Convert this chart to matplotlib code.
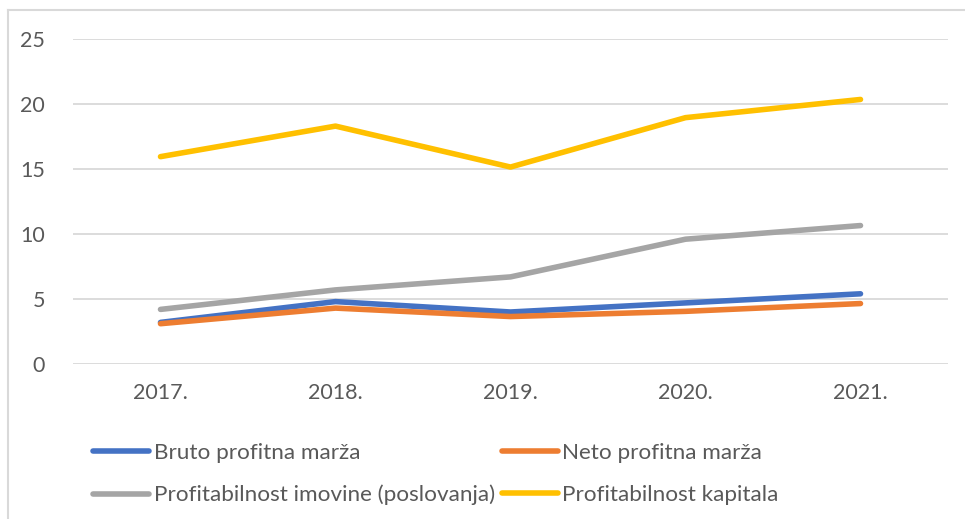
import matplotlib.pyplot as plt
from matplotlib.lines import Line2D

plt.rcParams['font.family'] = ['Lato', 'DejaVu Sans']

years = ['2017.', '2018.', '2019.', '2020.', '2021.']
bruto = [3.2, 4.8, 4.0, 4.7, 5.4]
neto = [3.1, 4.3, 3.65, 4.05, 4.65]
imovina = [4.2, 5.7, 6.7, 9.6, 10.65]
kapital = [15.95, 18.3, 15.15, 18.95, 20.35]

names = ['Bruto profitna marža', 'Neto profitna marža',
         'Profitabilnost imovine (poslovanja)', 'Profitabilnost kapitala']
colors = ['#4472C4', '#ED7D31', '#A5A5A5', '#FFC000']
text_col = '#595959'
grid_col = '#D9D9D9'

W, H = 965, 519
fig = plt.figure(figsize=(W / 100, H / 100), dpi=100)
ax = fig.add_axes([73 / W, 1 - 364 / H, (948 - 73) / W, (364 - 39) / H])

x = list(range(len(years)))
lines = []
for vals, c, n in zip([bruto, neto, imovina, kapital], colors, names):
    ln, = ax.plot(x, vals, color=c, lw=4, solid_capstyle='round',
                  solid_joinstyle='round', label=n)
    lines.append(ln)

ax.set_xlim(-0.5, len(years) - 0.5)
ax.set_ylim(0, 25)
ax.set_yticks([0, 5, 10, 15, 20, 25])
ax.set_xticks(x)
ax.set_xticklabels(years)
ax.grid(axis='y', color=grid_col, lw=1.3)
ax.set_axisbelow(True)
for s in ax.spines.values():
    s.set_visible(False)
ax.tick_params(length=0, labelsize=15.5, colors=text_col, pad=20)
ax.tick_params(axis='x', pad=14)

# chart frame (left and top edges)
fig.add_artist(Line2D([8 / W, 8 / W], [0, 1 - 10 / H], color=grid_col, lw=1.5))
fig.add_artist(Line2D([8 / W, 1], [1 - 10 / H, 1 - 10 / H], color=grid_col, lw=1.5))

# legend filled row by row: reorder for column-major layout
order = [0, 2, 1, 3]
leg = fig.legend([lines[i] for i in order], [names[i] for i in order],
                 loc='upper left', ncol=2,
                 bbox_to_anchor=(93 / W, 1 - 443 / H), frameon=False,
                 fontsize=16.2, handlelength=2.5, handletextpad=0.2,
                 columnspacing=0.3, labelspacing=0.97, borderpad=0,
                 borderaxespad=0)
for t in leg.get_texts():
    t.set_color(text_col)

fig.savefig('out.png', dpi=100)
